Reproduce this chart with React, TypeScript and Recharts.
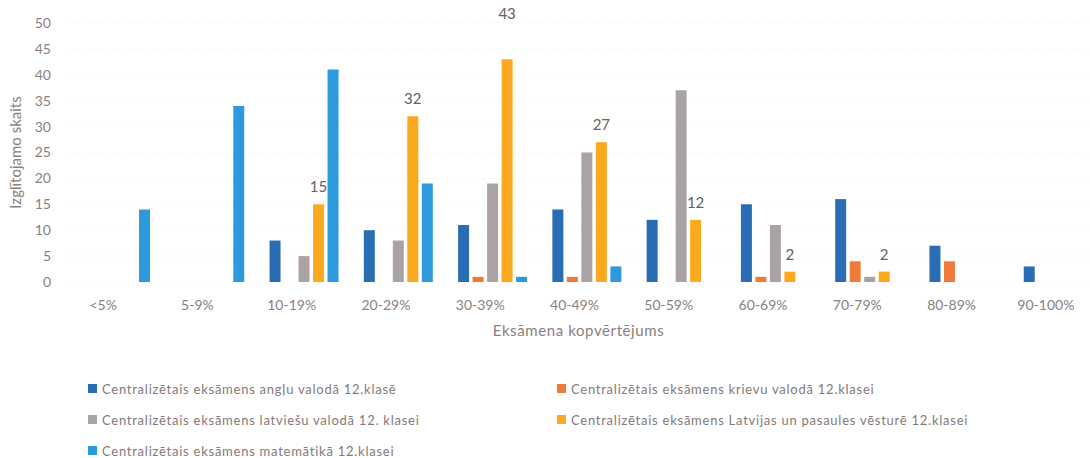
import React from 'react';
import { BarChart, Bar, XAxis, YAxis, CartesianGrid, LabelList } from 'recharts';

const categories = ['<5%', '5-9%', '10-19%', '20-29%', '30-39%', '40-49%', '50-59%', '60-69%', '70-79%', '80-89%', '90-100%'];
const angluValues = [null, null, 8, 10, 11, 14, 12, 15, 16, 7, 3];
const krievuValues = [null, null, null, null, 1, 1, null, 1, 4, 4, null];
const latviesuValues = [null, null, 5, 8, 19, 25, 37, 11, 1, null, null];
const vestureValues = [null, null, 15, 32, 43, 27, 12, 2, 2, null, null];
const matematikaValues = [14, 34, 41, 19, 1, 3, null, null, null, null, null];
const yTicks = [0, 5, 10, 15, 20, 25, 30, 35, 40, 45, 50];

const seriesNames = [
  'Centralizētais eksāmens angļu valodā 12.klasē',
  'Centralizētais eksāmens krievu valodā 12.klasei',
  'Centralizētais eksāmens latviešu valodā 12. klasei',
  'Centralizētais eksāmens Latvijas un pasaules vēsturē 12.klasei',
  'Centralizētais eksāmens matemātikā 12.klasei',
];
const seriesKeys = ['anglu', 'krievu', 'latviesu', 'vesture', 'matematika'];
const seriesColors = ['#2b6db4', '#ee7b3a', '#aba3a3', '#fbaa1f', '#2d9ade'];
const seriesValues = [angluValues, krievuValues, latviesuValues, vestureValues, matematikaValues];

const data = categories.map((c, i) => {
  const row: Record<string, any> = { category: c };
  seriesKeys.forEach((k, s) => {
    row[k] = seriesValues[s][i];
  });
  return row;
});

const FONT = 'Lato, "Open Sans", sans-serif';
const TEXT = '#8a7f80';

const vestureMax = Math.max(...(vestureValues.filter((v) => v != null) as number[]));

const renderTopLabel = (props: any) => {
  const { x, y, width, value } = props;
  if (value == null || value === 0) return null;
  const lift = value === vestureMax ? 46 : 18;
  return (
    <text
      x={x + width / 2}
      y={y - lift}
      textAnchor="middle"
      dominantBaseline="central"
      fill="#666060"
      fontSize={15}
      fontFamily={FONT}
    >
      {value}
    </text>
  );
};

export default function App() {
  const legendOrder = [0, 1, 2, 3, 4];
  return (
    <div
      style={{
        position: 'fixed',
        left: 0,
        top: 0,
        width: 1090,
        height: 458,
        overflow: 'hidden',
        background: '#ffffff',
        fontFamily: FONT,
      }}
    >
      <BarChart
        width={1110}
        height={458}
        data={data}
        margin={{ top: 23, right: 5, left: 0, bottom: 116 }}
        barSize={11}
        barGap={3.5}
        style={{ fontFamily: FONT }}
      >
        <CartesianGrid vertical={false} stroke="#efeed8" strokeDasharray="1 4" />
        <XAxis
          dataKey="category"
          axisLine={false}
          tickLine={false}
          height={60}
          tickMargin={12}
          interval={0}
          tick={{ fill: TEXT, fontSize: 14, dx: -12 }}
          label={{
            value: 'Eksāmena kopvērtējums',
            position: 'insideBottom',
            offset: 6,
            dx: -8,
            fill: TEXT,
            fontSize: 15,
            style: { letterSpacing: '0.6px' },
          }}
        />
        <YAxis
          width={68}
          domain={[0, 50]}
          ticks={yTicks}
          interval={0}
          axisLine={false}
          tickLine={false}
          tickMargin={11}
          tick={{ fill: TEXT, fontSize: 14 }}
          label={{
            value: 'Izglītojamo skaits',
            angle: -90,
            position: 'insideLeft',
            offset: 16,
            fill: TEXT,
            fontSize: 15,
            style: { textAnchor: 'middle' },
          }}
        />
        {seriesKeys.map((k, s) => (
          <Bar key={k} dataKey={k} name={seriesNames[s]} fill={seriesColors[s]} isAnimationActive={false}>
            {k === 'vesture' ? <LabelList dataKey={k} content={renderTopLabel} /> : null}
          </Bar>
        ))}
      </BarChart>
      <div
        style={{
          position: 'absolute',
          left: 88,
          top: 373,
          display: 'grid',
          gridTemplateColumns: '469px 520px',
          gridAutoRows: '31px',
          fontSize: 13,
          color: '#847a7a',
          letterSpacing: '0.75px',
        }}
      >
        {legendOrder.map((s) => (
          <div key={s} style={{ display: 'flex', alignItems: 'center', whiteSpace: 'nowrap' }}>
            <span
              style={{
                display: 'inline-block',
                width: 9,
                height: 9,
                background: seriesColors[s],
                marginRight: 5,
              }}
            />
            <span>{seriesNames[s]}</span>
          </div>
        ))}
      </div>
    </div>
  );
}
